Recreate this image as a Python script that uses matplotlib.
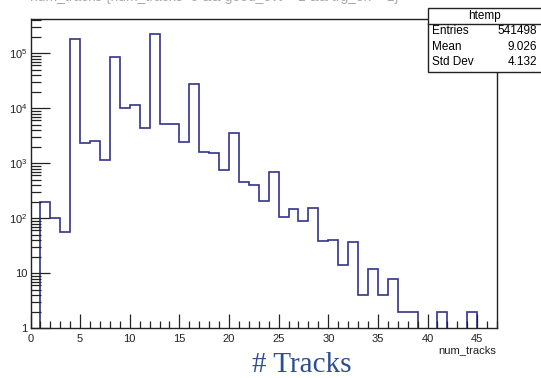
import matplotlib
matplotlib.use('Agg')
import matplotlib.pyplot as plt
import numpy as np
from matplotlib.ticker import LogLocator, FixedLocator, MultipleLocator, NullFormatter

plt.rcParams['font.family'] = ['Liberation Sans', 'DejaVu Sans']
plt.rcParams['mathtext.fontset'] = 'custom'
plt.rcParams['mathtext.rm'] = 'Liberation Sans'
plt.rcParams['mathtext.it'] = 'Liberation Sans'

# bin edges are integers, one entry per bin starting at [1, 2)
bin_lo = np.arange(1, 47)
counts = [195, 102, 57, 180000, 2300, 2570, 1150, 87000, 10200, 11300,
          4450, 223000, 5100, 5100, 2390, 27700, 1590, 1520, 760, 3600,
          450, 405, 207, 705, 107, 145, 89, 152, 39, 41,
          14, 37, 4, 12, 4, 8, 2, 2, 0, 0,
          2, 0, 0, 2, 0, 0]

stats_names = ['Entries', 'Mean', 'Std Dev']
stats_vals = ['541498', '9.026', '4.132']

line_col = '#34348a'

fig = plt.figure(figsize=(5.41, 3.78), dpi=100)
ax = fig.add_axes([30.5 / 541, 1 - 328.3 / 378, (497 - 30.5) / 541, (328.3 - 19) / 378])

# histogram outline, empty bins drop to the floor of the log axis
edges = np.append(bin_lo, bin_lo[-1] + 1)
vals = np.array(counts, dtype=float)
vals[vals <= 0] = 0.5
ax.stairs(vals, edges, color=line_col, linewidth=1.2, baseline=0.5)

ax.set_yscale('log')
ax.set_xlim(0, 47)
ax.set_ylim(1, 4.2e5)

ax.xaxis.set_major_locator(MultipleLocator(5))
ax.xaxis.set_minor_locator(MultipleLocator(1))
ax.yaxis.set_major_locator(FixedLocator([1, 10, 100, 1e3, 1e4, 1e5]))
ax.yaxis.set_minor_locator(LogLocator(base=10, subs=np.arange(2, 10), numticks=20))
ax.yaxis.set_minor_formatter(NullFormatter())
ax.set_yticklabels(['1', '10', r'$10^{2}$', r'$10^{3}$', r'$10^{4}$', r'$10^{5}$'])

ax.tick_params(axis='both', which='both', direction='in', top=False, right=False, labelsize=8, colors='#222222')
ax.tick_params(axis='x', which='major', length=10, width=0.9, pad=4)
ax.tick_params(axis='x', which='minor', length=5, width=0.9)
ax.tick_params(axis='y', which='major', length=14, width=0.9, pad=2)
ax.tick_params(axis='y', which='minor', length=7, width=0.9)
for s in ax.spines.values():
    s.set_linewidth(1.0)
    s.set_color('#222222')

# axis title sits under the right end like ROOT does it
fig.text(495.7 / 541, 1 - 350 / 378, 'num_tracks', ha='right', va='center', fontsize=8, color='#222222')

# title, mostly chopped off by the top edge of the screenshot
fig.text(215 / 541, 1 - 1.5 / 378, 'num_tracks {num_tracks>0 && good_evt==1 && trg_ok==1}', ha='center', va='baseline',
         fontsize=10, color='#aaaaaa')

# stats box
bx0, by0, by1 = 428 / 541, 1 - 8.3 / 378, 1 - 71.7 / 378
box = plt.Rectangle((bx0, by1), 1 - bx0 + 0.01, by0 - by1, transform=fig.transFigure,
                    facecolor='white', edgecolor='#222222', linewidth=1.0, zorder=5, clip_on=False)
fig.add_artist(box)
fig.add_artist(plt.Line2D([bx0, 1], [1 - 24 / 378] * 2, transform=fig.transFigure, color='#222222', linewidth=1.0, zorder=6))
fig.text((428 + 541) / 2 / 541, 1 - 15.5 / 378, 'htemp', ha='center', va='center', fontsize=8.5, zorder=7)
for i, (n, v) in enumerate(zip(stats_names, stats_vals)):
    y = 1 - (31 + i * 15.5) / 378
    fig.text(432 / 541, y, n, ha='left', va='center', fontsize=8.5, zorder=7)
    fig.text(537 / 541, y, v, ha='right', va='center', fontsize=8.5, zorder=7)

fig.text(302 / 541, 1 - 371.7 / 378, '# Tracks', ha='center', va='baseline', fontsize=21,
         family=['Liberation Serif', 'DejaVu Serif'], color='#2b4f8f')

fig.savefig('out.png', dpi=100)
